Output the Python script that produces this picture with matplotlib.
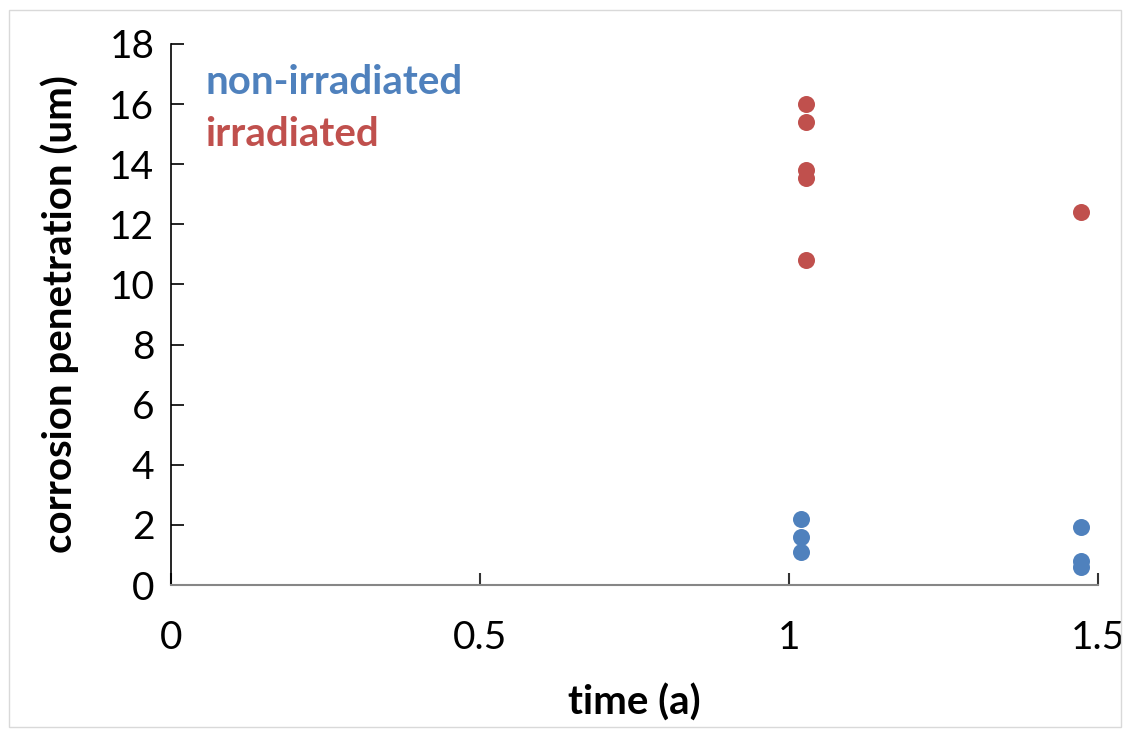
import matplotlib.pyplot as plt
from matplotlib.patches import Rectangle

plt.rcParams['font.family'] = ['Lato', 'DejaVu Sans']

# data
t_non = [1.02, 1.02, 1.02, 1.473, 1.473, 1.473]
pen_non = [2.2, 1.6, 1.1, 1.93, 0.8, 0.6]
t_irr = [1.027, 1.027, 1.027, 1.027, 1.027, 1.473]
pen_irr = [16.0, 15.4, 13.8, 13.55, 10.8, 12.4]

blue = '#4f81bd'
red = '#c0504d'

fig = plt.figure(figsize=(11.3, 7.33), dpi=100)
ax = fig.add_axes([0.1513, 0.2019, 0.8204, 0.7381])

ax.scatter(t_non, pen_non, s=150, color=blue, zorder=3, linewidths=0)
ax.scatter(t_irr, pen_irr, s=150, color=red, zorder=3, linewidths=0)

ax.set_xlim(0, 1.5)
ax.set_ylim(0, 18)
ax.set_xticks([0, 0.5, 1, 1.5])
ax.set_xticklabels(['0', '0.5', '1', '1.5'])
ax.set_yticks(range(0, 19, 2))

for s in ['top', 'right']:
    ax.spines[s].set_visible(False)
ax.spines['left'].set_color('black')
ax.spines['bottom'].set_color('#868686')
ax.spines['left'].set_linewidth(1.2)
ax.spines['bottom'].set_linewidth(1.5)

ax.tick_params(axis='y', direction='in', length=9, width=1.2, labelsize=28, pad=12)
ax.tick_params(axis='x', direction='in', length=9, width=1.5, color='#333333',
               labelsize=28, pad=25)

ax.set_xlabel('time (a)', fontsize=29, fontweight='bold', labelpad=20)
ax.set_ylabel('corrosion penetration (um)', fontsize=29, fontweight='bold', labelpad=22)

ax.text(0.037, 0.928, 'non-irradiated', transform=ax.transAxes, fontsize=29,
        fontweight='bold', color=blue, va='center')
ax.text(0.037, 0.833, 'irradiated', transform=ax.transAxes, fontsize=29,
        fontweight='bold', color=red, va='center')

fig.patches.append(Rectangle((0.008, 0.008), 0.984, 0.978, transform=fig.transFigure,
                             fill=False, edgecolor='#d9d9d9', linewidth=1))

fig.savefig('out.png', dpi=100)
